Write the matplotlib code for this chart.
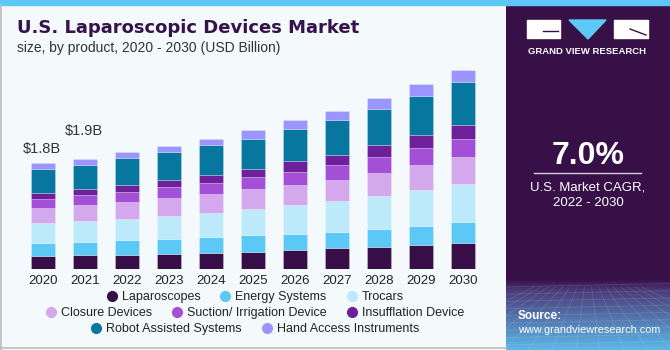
import matplotlib.pyplot as plt
import matplotlib.patches as mpatches
from matplotlib.lines import Line2D
import numpy as np

plt.rcParams['font.family'] = ['Liberation Sans', 'DejaVu Sans']

# --- Data (USD Billion) ---
years = ['2020', '2021', '2022', '2023', '2024', '2025',
         '2026', '2027', '2028', '2029', '2030']

laparoscopes  = [0.216, 0.233, 0.244, 0.261, 0.278, 0.295, 0.324, 0.352, 0.375, 0.409, 0.443]
energy        = [0.233, 0.233, 0.244, 0.256, 0.273, 0.290, 0.278, 0.284, 0.307, 0.329, 0.352]
trocars       = [0.329, 0.346, 0.369, 0.392, 0.409, 0.432, 0.483, 0.517, 0.556, 0.602, 0.647]
closure       = [0.256, 0.273, 0.284, 0.295, 0.312, 0.341, 0.341, 0.369, 0.397, 0.432, 0.466]
suction       = [0.165, 0.170, 0.176, 0.187, 0.199, 0.216, 0.233, 0.244, 0.267, 0.284, 0.312]
insufflation  = [0.102, 0.108, 0.114, 0.125, 0.131, 0.136, 0.176, 0.182, 0.204, 0.221, 0.233]
robot         = [0.403, 0.415, 0.460, 0.477, 0.511, 0.505, 0.545, 0.585, 0.625, 0.676, 0.732]
hand_access   = [0.097, 0.102, 0.097, 0.102, 0.102, 0.153, 0.153, 0.165, 0.182, 0.199, 0.210]

series_names = ['Laparoscopes', 'Energy Systems', 'Trocars', 'Closure Devices',
                'Suction/ Irrigation Device', 'Insufflation Device',
                'Robot Assisted Systems', 'Hand Access Instruments']
series_vals = [laparoscopes, energy, trocars, closure, suction,
               insufflation, robot, hand_access]
series_cols = ['#370E48', '#5BC8F5', '#BDEAFB', '#D4A8EC',
               '#A34FD6', '#6E1F9A', '#08779F', '#9B95FF']

total_labels = {0: '$1.8B', 1: '$1.9B'}

BG = '#F4F9FC'
PANEL = '#371047'
W, H = 670, 350

fig = plt.figure(figsize=(6.7, 3.5), dpi=100)
fig.patch.set_facecolor(BG)

# --- Main axes ---
px_left, px_right = 10, 496
ax = fig.add_axes([px_left / W, 81 / H, (px_right - px_left) / W, 209 / H])
ax.set_facecolor(BG)
x = np.arange(len(years))
bottom = np.zeros(len(years))
for name, vals, col in zip(series_names, series_vals, series_cols):
    ax.bar(x, vals, width=0.57, bottom=bottom, color=col,
           edgecolor=(1, 1, 1, 0.35), linewidth=0.5, label=name)
    bottom += np.array(vals)

ax.set_xlim((px_left - 43) / 42, (px_right - 43) / 42)
ax.set_ylim(0, 209 / 58.7)
for i, txt in total_labels.items():
    off = 0.12 if i == 0 else 0.36
    ax.text(x[i] - 0.03, bottom[i] + off, txt, ha='center', va='bottom',
            fontsize=10.5, color='#333333')

ax.set_xticks(x)
ax.set_xticklabels(years, fontsize=9.5, color='#222222')
ax.tick_params(axis='x', length=0, pad=4)
ax.set_yticks([])
for s in ax.spines.values():
    s.set_visible(False)

# --- Titles ---
fig.text(17 / W, 1 - 28 / H, 'U.S. Laparoscopic Devices Market', fontsize=13,
         fontweight='bold', color='#35124A', va='center', ha='left',
         family='DejaVu Sans')
fig.text(17 / W, 1 - 48 / H, 'size, by product, 2020 - 2030 (USD Billion)',
         fontsize=10, color='#333333', va='center', ha='left')

# --- Legend: three centred rows ---
handles = [Line2D([0], [0], marker='o', linestyle='', markersize=7,
                  markerfacecolor=c, markeredgecolor=c, label=n)
           for n, c in zip(series_names, series_cols)]
rows = [handles[0:3], handles[3:6], handles[6:8]]
row_y = [297, 313, 329]
for hs, yy in zip(rows, row_y):
    leg = fig.legend(handles=hs, loc='center', bbox_to_anchor=(254 / W, 1 - yy / H),
                     ncol=len(hs), frameon=False, fontsize=9, handletextpad=0.2,
                     columnspacing=1.4, handlelength=1.2, borderpad=0)
    for t in leg.get_texts():
        t.set_color('#222222')

# --- Right panel ---
pax = fig.add_axes([506 / W, 0, (W - 506) / W, 1 - 5 / H])
pax.set_xlim(0, 1)
pax.set_ylim(0, 1)
pax.axis('off')
ph = H - 5

def fy(py):
    return 1 - (py - 5) / ph

def fx(px):
    return (px - 506) / (W - 506)

# vertical gradient: purple above y=280 px, blue toward the bottom
n = 300
t = np.linspace(0, 1, n)[:, None]  # 0 = bottom, 1 = top
top_c = np.array([0x37, 0x10, 0x47]) / 255
mid_c = np.array([0x4B, 0x3A, 0x78]) / 255
bot_c = np.array([0x5C, 0xB8, 0xE8]) / 255
edge = fy(280)
img = np.zeros((n, 1, 3))
for k in range(n):
    v = t[k, 0]
    if v >= edge:
        img[k, 0] = top_c
    else:
        s = v / edge  # 0 bottom -> 1 at edge
        if s > 0.85:
            w = (s - 0.85) / 0.15
            img[k, 0] = mid_c * (1 - w) + top_c * w
        else:
            w = s / 0.85
            img[k, 0] = bot_c * (1 - w) + mid_c * w
pax.imshow(np.repeat(img, 2, axis=1), extent=[0, 1, 0, 1], origin='lower',
           aspect='auto', zorder=0)
# faint perspective grid texture
for yy in np.linspace(0.015, edge - 0.02, 9):
    pax.plot([0, 1], [yy, yy + 0.01], color='white', alpha=0.12, lw=0.6, zorder=1)
for xx in np.linspace(-0.6, 1.6, 16):
    pax.plot([xx, 0.5 + (xx - 0.5) * 0.3], [0, edge - 0.02], color='white',
             alpha=0.12, lw=0.6, zorder=1)

# logo
pax.add_patch(mpatches.Rectangle((fx(527), fy(38)), fx(560) - fx(527), fy(20) - fy(38),
                                 color='white', zorder=2))
pax.add_patch(mpatches.Polygon([(fx(569), fy(20)), (fx(606), fy(20)), (fx(588), fy(39))],
                               color='#5BC8F5', zorder=2))
pax.add_patch(mpatches.Rectangle((fx(614), fy(38)), fx(648) - fx(614), fy(20) - fy(38),
                                 color='white', zorder=2))
pax.plot([fx(543), fx(558)], [fy(31), fy(31)], color=PANEL, lw=1, zorder=3)
pax.plot([fx(630), fx(646)], [fy(29), fy(35)], color=PANEL, lw=1, zorder=3)
pax.text(fx(587), fy(51), 'GRAND VIEW RESEARCH', color='white', fontsize=6.8,
         fontweight='bold', ha='center', va='center', zorder=3)

pax.text(fx(588), fy(156), '7.0%', color='white', fontsize=23, fontweight='bold',
         ha='center', va='center', zorder=3)
pax.plot([fx(534), fx(641)], [fy(173), fy(173)], color='#D8D0E0', lw=1, zorder=3)
pax.text(fx(588), fy(187), 'U.S. Market CAGR,', color='white', fontsize=9.5,
         ha='center', va='center', zorder=3)
pax.text(fx(588), fy(203), '2022 - 2030', color='white', fontsize=9.5,
         ha='center', va='center', zorder=3)
pax.text(fx(518), fy(316), 'Source:', color='white', fontsize=8.5, fontweight='bold',
         ha='left', va='center', zorder=3)
pax.text(fx(518), fy(330), 'www.grandviewresearch.com', color='white', fontsize=7.8,
         ha='left', va='center', zorder=3)

# --- Frame details ---
fig.add_artist(mpatches.Rectangle((0, 1 - 5 / H), 1, 5 / H, color='#5BC8F5',
                                  transform=fig.transFigure))
fig.add_artist(Line2D([1 / W, 1 / W], [0, 1 - 5 / H], color='#BBBBBB', lw=1.2,
                      transform=fig.transFigure))
fig.add_artist(Line2D([0, 506 / W], [2.5 / H, 2.5 / H], color='#BBBBBB', lw=1.2,
                      transform=fig.transFigure))

fig.savefig('out.png', dpi=100, facecolor=BG)
